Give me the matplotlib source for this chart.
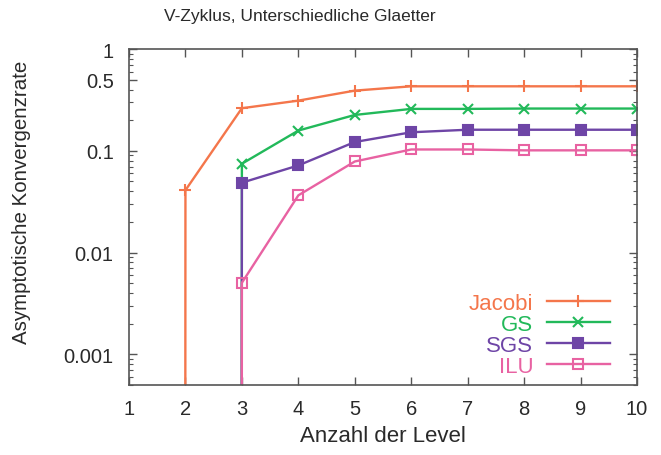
import matplotlib
matplotlib.use("Agg")
import matplotlib.pyplot as plt
import numpy as np
from matplotlib.ticker import FixedLocator, LogLocator, NullFormatter

plt.rcParams["font.family"] = ["Liberation Sans", "DejaVu Sans"]

levels = [1, 2, 3, 4, 5, 6, 7, 8, 9, 10]
# 0 = no convergence rate (drawn as a drop to the bottom, like gnuplot)
jacobi = [0, 0.041, 0.262, 0.311, 0.39, 0.43, 0.43, 0.43, 0.43, 0.43]
gs = [0, 0, 0.0746, 0.158, 0.225, 0.258, 0.258, 0.26, 0.26, 0.26]
sgs = [0, 0, 0.0486, 0.0718, 0.122, 0.152, 0.161, 0.161, 0.161, 0.161]
ilu = [0, 0, 0.00505, 0.0365, 0.0785, 0.103, 0.103, 0.101, 0.101, 0.101]

series = [
    ("Jacobi", jacobi, "#f4764b", "+", "none", 8),
    ("GS", gs, "#22b95a", "x", "none", 7),
    ("SGS", sgs, "#6e45a6", "s", "full", 6.5),
    ("ILU", ilu, "#e862a2", "s", "none", 7),
]

fig = plt.figure(figsize=(6.61, 4.56), dpi=100)
ax = fig.add_axes([129 / 661, 1 - 386 / 456, 508 / 661, 336 / 456])
ax.set_yscale("log", nonpositive="clip")

for name, vals, col, mk, fill, ms in series:
    y = np.array(vals, dtype=float)
    ax.plot(levels, y, color=col, linewidth=1.7, marker=mk, markersize=ms,
            markeredgewidth=1.5, markerfacecolor=col if fill == "full" else "none",
            markeredgecolor=col, label=name)

ax.set_xlim(1, 10)
ax.set_ylim(0.0005, 1)
ax.set_xticks(levels)
ax.yaxis.set_major_locator(FixedLocator([0.001, 0.01, 0.1, 0.5, 1]))
ax.yaxis.set_minor_locator(LogLocator(base=10, subs=np.arange(2, 10)))
ax.yaxis.set_minor_formatter(NullFormatter())
ax.set_yticklabels(["0.001", "0.01", "0.1", "0.5", "1"])

for sp in ax.spines.values():
    sp.set_color("#555555")
    sp.set_linewidth(1.2)
ax.tick_params(which="both", direction="in", top=True, right=True,
               colors="#555555", labelcolor="#2a2a2a", labelsize=14.5)
ax.tick_params(which="major", length=6, width=1)
ax.tick_params(which="minor", length=3, width=0.8)
ax.tick_params(axis="x", pad=10)
ax.tick_params(axis="y", pad=11)

fig.text(300 / 661, 1 - 16 / 456, "V-Zyklus, Unterschiedliche Glaetter",
         ha="center", va="center", fontsize=12.5, color="#2a2a2a")
ax.set_xlabel("Anzahl der Level", fontsize=16, color="#2a2a2a")
ax.xaxis.set_label_coords(0.5, (386 - 437) / 336)
ax.xaxis.label.set_va("center")
ax.set_ylabel("Asymptotische Konvergenzrate", fontsize=14.8, color="#2a2a2a")
ax.yaxis.set_label_coords((22 - 129) / 508, (386 - 202) / 336)
ax.yaxis.label.set_va("center")

leg = ax.legend(loc="lower right", bbox_to_anchor=(1 - 27 / 508, 8 / 336),
                frameon=False, markerfirst=False, fontsize=16,
                handlelength=2.85, handletextpad=0.6, labelspacing=0.0,
                borderaxespad=0, borderpad=0)
for txt, s in zip(leg.get_texts(), series):
    txt.set_color(s[2])
    txt.set_ha("right")

fig.savefig("out.png", dpi=100)
